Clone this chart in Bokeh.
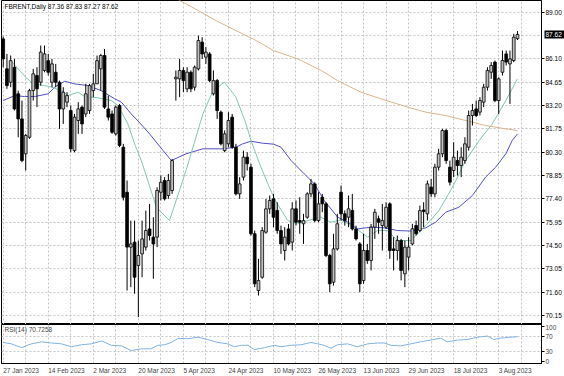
from bokeh.plotting import figure
from bokeh.layouts import column
from bokeh.models import (Range1d, FixedTicker, Label, Grid, NumeralTickFormatter,
                          ColumnDataSource, LinearAxis)
from bokeh.embed import file_html
from bokeh.resources import INLINE

# ---------------- data ----------------
date_labels = ["27 Jan 2023", "14 Feb 2023", "2 Mar 2023", "20 Mar 2023", "5 Apr 2023",
               "24 Apr 2023", "10 May 2023", "26 May 2023", "13 Jun 2023", "29 Jun 2023",
               "18 Jul 2023", "3 Aug 2023"]
date_label_bars = [0, 12, 24, 36, 48, 60, 72, 84, 96, 108, 120, 132]

price_tick_labels = ["70.15", "71.60", "73.05", "74.50", "75.95", "77.40", "78.85",
                     "80.30", "81.75", "83.20", "84.65", "86.10", "87.55", "89.00"]

opens = [87.34, 85.48, 84.65, 85.58, 83.93, 82.37, 80.20, 81.23, 84.13, 85.07,
         84.65, 85.38, 85.99, 84.65, 85.27, 84.65, 82.99, 83.41, 82.89, 80.40,
         82.27, 83.10, 82.68, 82.89, 84.13, 84.55, 85.48, 86.31, 82.99, 82.68,
         81.44, 83.20, 80.61, 77.81, 74.40, 74.71, 73.26, 73.98, 74.40, 75.53,
         75.02, 75.02, 77.81, 78.54, 77.61, 77.92, 84.86, 84.86, 85.38, 84.24,
         85.27, 84.34, 85.48, 87.14, 86.21, 86.41, 83.93, 84.75, 82.79, 80.40,
         80.82, 82.48, 80.61, 77.71, 78.75, 79.99, 79.37, 75.23, 71.70, 72.53,
         75.33, 76.78, 77.40, 76.68, 75.43, 74.19, 75.53, 74.71, 76.78, 76.05,
         75.85, 76.26, 77.71, 78.33, 76.05, 77.50, 77.09, 73.88, 72.22, 74.29,
         77.81, 76.47, 76.26, 76.68, 75.53, 74.60, 72.32, 74.19, 73.57, 75.64,
         76.16, 75.74, 75.64, 77.09, 74.29, 74.19, 74.81, 72.74, 73.78, 74.60,
         75.74, 75.43, 76.71, 76.47, 78.13, 77.71, 79.37, 80.20, 81.65, 79.37,
         79.16, 79.78, 79.47, 79.78, 80.61, 82.58, 82.99, 82.79, 83.41, 84.34,
         85.27, 85.90, 83.51, 85.27, 86.41, 85.79, 86.00, 87.36]
highs = [87.49, 86.41, 86.31, 86.10, 84.13, 83.51, 81.44, 84.24, 85.48, 85.58,
         86.93, 86.93, 86.41, 86.10, 85.79, 84.75, 84.34, 84.03, 83.20, 82.68,
         83.41, 83.20, 84.55, 84.55, 85.17, 86.31, 86.41, 86.72, 83.82, 82.89,
         83.20, 83.30, 80.82, 78.54, 76.05, 76.05, 74.81, 76.05, 76.67, 77.09,
         76.26, 78.12, 78.85, 78.75, 78.95, 79.88, 85.38, 86.10, 85.58, 85.58,
         85.38, 85.69, 87.55, 87.45, 86.83, 86.52, 85.38, 84.86, 82.89, 81.65,
         82.79, 82.68, 80.82, 78.75, 80.40, 80.30, 79.58, 75.43, 73.67, 75.64,
         77.40, 77.61, 77.71, 77.19, 75.74, 75.64, 75.84, 77.19, 77.30, 77.50,
         76.47, 77.81, 78.64, 78.43, 77.81, 77.71, 77.19, 73.98, 75.23, 76.47,
         78.23, 76.68, 77.61, 77.71, 75.74, 74.71, 75.23, 74.60, 75.84, 76.78,
         76.36, 77.09, 77.19, 77.19, 75.02, 75.12, 74.91, 74.81, 75.02, 75.85,
         76.05, 76.98, 77.19, 78.54, 78.64, 79.58, 80.51, 81.75, 81.75, 79.78,
         80.92, 80.40, 80.61, 81.23, 82.89, 83.30, 83.51, 83.72, 84.55, 85.58,
         85.90, 86.00, 84.96, 86.62, 86.62, 86.62, 87.66, 87.83]
lows = [85.58, 84.24, 84.34, 82.89, 81.23, 79.68, 79.16, 81.13, 83.51, 83.10,
        84.44, 85.27, 85.07, 84.34, 84.34, 81.75, 82.06, 83.10, 80.30, 80.30,
        81.44, 81.44, 82.48, 82.68, 83.72, 84.55, 84.13, 82.99, 82.27, 81.44,
        81.34, 80.61, 77.30, 71.70, 71.91, 71.50, 70.05, 72.53, 74.19, 74.81,
        72.43, 74.40, 77.30, 77.30, 77.40, 77.71, 83.51, 83.72, 84.03, 84.03,
        84.03, 84.13, 85.38, 86.10, 85.79, 84.65, 83.82, 82.37, 80.72, 80.30,
        80.61, 80.51, 77.61, 77.40, 78.54, 79.16, 75.12, 71.91, 71.39, 72.43,
        75.23, 76.47, 75.64, 75.23, 73.98, 73.57, 74.50, 74.19, 75.74, 75.23,
        74.60, 76.16, 77.50, 75.95, 75.95, 76.57, 73.78, 71.60, 72.01, 74.19,
        76.05, 75.74, 75.64, 75.43, 74.81, 71.60, 72.12, 73.36, 72.95, 74.91,
        75.23, 74.19, 75.53, 73.67, 72.95, 73.57, 72.33, 71.91, 72.95, 74.50,
        75.12, 75.33, 75.64, 76.05, 77.50, 77.50, 79.16, 79.99, 79.58, 78.23,
        78.75, 78.85, 78.75, 79.58, 80.40, 81.96, 82.48, 82.58, 83.10, 84.13,
        84.86, 83.41, 82.68, 85.07, 85.69, 83.30, 85.90, 87.27]
closes = [86.10, 84.44, 85.99, 82.99, 82.37, 79.78, 81.34, 84.13, 85.17, 84.24,
          86.52, 86.41, 85.27, 85.79, 84.65, 82.99, 84.03, 83.82, 80.51, 82.48,
          82.99, 82.06, 83.93, 84.44, 84.55, 85.99, 86.31, 83.10, 82.48, 81.54,
          83.10, 80.72, 77.50, 74.40, 74.60, 72.53, 73.88, 74.91, 75.43, 75.12,
          74.60, 77.92, 78.43, 77.40, 78.54, 79.78, 84.96, 85.38, 84.75, 85.27,
          84.24, 85.58, 87.24, 86.41, 86.52, 84.75, 84.75, 82.89, 80.82, 81.44,
          82.27, 80.61, 77.71, 78.33, 79.99, 79.58, 75.23, 72.12, 72.32, 75.43,
          76.78, 77.30, 76.26, 75.43, 74.60, 75.02, 74.60, 76.78, 75.95, 75.95,
          76.05, 77.71, 78.33, 76.05, 77.09, 77.09, 73.88, 72.12, 74.29, 75.85,
          76.47, 76.05, 76.78, 75.53, 74.91, 72.12, 74.19, 73.57, 75.64, 76.57,
          75.95, 76.05, 76.88, 74.19, 74.19, 74.81, 72.95, 74.40, 74.40, 75.54,
          75.23, 76.67, 76.61, 78.33, 77.71, 79.37, 80.20, 81.65, 79.78, 78.44,
          79.99, 79.47, 79.99, 80.82, 82.58, 82.89, 82.58, 83.51, 84.34, 85.38,
          85.69, 83.51, 84.86, 86.00, 85.90, 86.10, 87.45, 87.62]

fast_ma_bar = [2, 6, 8, 11, 13, 15.5, 17.3, 19.9, 21.7, 25.3, 28.8, 30.6, 33.2, 35.2, 36.8,
               40.8, 44.3, 48.7, 53.2, 55.9, 58.9, 62.0, 64.7, 66.0, 68.3, 70.9, 72.5,
               75.8, 78.4, 81.1, 84.6, 87.3, 89.9, 93.5, 97.1, 99.7, 102.4, 105.0, 108.6,
               112.8, 116.1, 119.7, 123.2, 126.8, 130.3, 133.9, 137.0]
fast_ma_val = [85.99, 84.96, 84.55, 84.44, 84.34, 84.13, 83.82, 84.03, 83.76, 83.68, 83.51,
               83.20, 82.06, 80.70, 79.78, 76.88, 76.05, 79.16, 82.68, 84.13, 84.65, 83.72,
               82.06, 81.03, 79.58, 78.12, 77.30, 76.05, 75.85, 76.05, 76.26, 75.95, 76.09,
               75.64, 75.02, 75.43, 75.43, 74.81, 74.81, 75.80, 76.68, 78.13, 79.78, 81.03,
               82.06, 83.51, 84.86]

slow_ma_bar = [0, 3.1, 5.7, 8.4, 12.0, 13.7, 16.4, 19.0, 22.6, 26.1, 29.7, 31.5, 34.1, 36.2,
               39.0, 42.6, 44.8, 48.7, 53.2, 58.5, 62.0, 63.8, 66.0, 69.1, 72.0, 74.0, 76.7,
               80.2, 82.9, 85.5, 89.1, 91.8, 94.4, 97.9, 101.5, 105.0, 108.6, 112.6, 115.2,
               117.9, 121.4, 125.0, 128.5, 131.2, 133.9, 135.6, 137.0]
slow_ma_val = [83.51, 83.82, 83.76, 83.76, 83.93, 84.34, 84.71, 84.55, 84.44, 84.13, 83.62,
               83.41, 82.68, 82.17, 81.44, 80.40, 79.78, 80.20, 80.51, 80.51, 80.61, 80.82,
               80.98, 80.86, 80.80, 80.61, 79.78, 78.95, 78.33, 77.30, 76.26, 75.95, 75.53,
               75.64, 75.60, 75.43, 75.40, 75.60, 75.95, 76.57, 76.88, 77.61, 78.75, 79.37,
               80.20, 81.03, 81.44]

long_ma_bar = [46.5, 51, 56.7, 62.0, 67.4, 72.0, 78.5, 84.7, 89.1, 95.3, 100.6, 105.0, 108.0,
               112.6, 117.9, 123.2, 128.5, 133.9, 137.0]
long_ma_val = [89.80, 89.23, 88.48, 87.86, 87.24, 86.62, 86.10, 85.38, 84.75, 84.03, 83.62,
               83.30, 83.08, 82.79, 82.58, 82.27, 81.96, 81.75, 81.65]

rsi_bar = [0, 2.2, 4.9, 7.5, 10.2, 12.9, 15.5, 18.2, 20.8, 23.5, 26.2, 28.8, 31.5, 34.1, 36.8,
           39.4, 41.2, 43.0, 44.8, 46.5, 49.2, 51.9, 54.5, 57.2, 59.8, 61.6, 63.4, 65.2, 66.9,
           69.6, 72.3, 74.0, 76.7, 79.3, 82.0, 83.8, 85.5, 87.3, 89.1, 91.7, 94.4, 97.1, 99.7,
           101.5, 103.3, 105.9, 108.6, 111.2, 113.9, 116.6, 118.3, 121.0, 123.6, 126.3, 129.0,
           130.7, 132.5, 135.2, 137.0]
rsi_val = [54.4, 50.4, 39.7, 50.4, 56.1, 52.8, 50.4, 42.2, 47.9, 50.4, 58.5, 46.3, 44.6, 31.5,
           36.4, 36.4, 46.3, 47.9, 54.4, 65.1, 65.1, 69.2, 62.6, 54.4, 50.4, 42.2, 46.3, 46.3,
           34.0, 39.7, 46.3, 42.2, 46.3, 47.9, 54.4, 50.4, 46.3, 38.1, 47.9, 50.4, 42.2, 50.4,
           52.8, 52.8, 46.3, 44.6, 50.4, 56.1, 61.0, 66.7, 56.1, 61.0, 62.6, 69.2, 72.4, 62.6,
           66.7, 69.2, 70.7]

header_text = "FBRENT,Daily 87.36 87.83 87.27 87.62"
rsi_header = "RSI(14) 70.7258"
last_price = 87.62
rsi_levels = [30, 70]
rsi_axis_ticks = [0, 30, 70, 100]

# ---------------- styling ----------------
FONT = "Liberation Sans"
FS_PX = 6.5
FS = "6.5px"
GRID_COLOR = "#c4c4c4"
UP_FILL = "#c0c0c0"
FRAME_W = 540
X0, X1 = -0.45, 143.4
PX_PER_BAR = FRAME_W / (X1 - X0)

# Arial/Liberation Sans advance widths (1/1000 em), used to left-align date labels at their bar
_W = {c: 556 for c in "0123456789"}
_W.update({" ": 278, "J": 500, "a": 556, "n": 556, "F": 611, "e": 556, "b": 556, "M": 833,
           "r": 333, "A": 667, "p": 556, "y": 500, "u": 556, "l": 222, "g": 556})


def text_px(s):
    return sum(_W.get(c, 556) for c in s) / 1000.0 * FS_PX


idx = list(range(len(closes)))
up = [c >= o for o, c in zip(opens, closes)]
src_up = ColumnDataSource(dict(x=[i for i in idx if up[i]],
                               top=[closes[i] for i in idx if up[i]],
                               bottom=[opens[i] for i in idx if up[i]]))
src_dn = ColumnDataSource(dict(x=[i for i in idx if not up[i]],
                               top=[opens[i] for i in idx if not up[i]],
                               bottom=[closes[i] for i in idx if not up[i]]))

x_range = Range1d(X0, X1)
price_ticks = [float(t) for t in price_tick_labels]
Y0, Y1 = 69.59, 89.73

main = figure(frame_width=FRAME_W, frame_height=324, x_range=x_range,
              y_range=Range1d(Y0, Y1), x_axis_location=None,
              y_axis_location="right", toolbar_location=None, output_backend="svg",
              min_border_left=1, min_border_right=0, min_border_top=0, min_border_bottom=0,
              outline_line_color="black", outline_line_width=1)
for g in main.grid:
    g.visible = False

vgrid_ticks = list(range(0, 144, 6))
main.add_layout(Grid(dimension=0, ticker=FixedTicker(ticks=vgrid_ticks),
                     grid_line_color=GRID_COLOR, grid_line_dash="2 2"))
main.add_layout(Grid(dimension=1, ticker=FixedTicker(ticks=price_ticks),
                     grid_line_color=GRID_COLOR, grid_line_dash="2 2"))

ya = main.yaxis[0]
ya.ticker = FixedTicker(ticks=[t for t in price_ticks if abs(t - last_price) > 0.3])
ya.formatter = NumeralTickFormatter(format="0.00")
ya.major_label_text_font = FONT
ya.major_label_text_font_size = FS
ya.major_label_text_color = "black"
ya.major_tick_out = 3
ya.major_tick_in = 0
ya.minor_tick_line_color = None
ya.major_label_standoff = 1
ya.axis_line_color = "black"

# current-price tag: a second right axis; its (inward, thick) tick is the black box and
# its label, pulled back over the first axis, is the white text
tag_axis = LinearAxis(ticker=FixedTicker(ticks=[last_price]),
                      formatter=NumeralTickFormatter(format="0.00"),
                      axis_line_color=None,
                      major_tick_line_color="black", major_tick_line_width=8,
                      major_tick_out=0, major_tick_in=20,
                      minor_tick_line_color=None,
                      major_label_text_font=FONT, major_label_text_font_size=FS,
                      major_label_text_color="white",
                      major_label_standoff=-19)
main.add_layout(tag_axis, "right")

main.line(long_ma_bar, long_ma_val, line_color="#dcb48c", line_width=1)
main.line(slow_ma_bar, slow_ma_val, line_color="#5050c8", line_width=1)
main.line(fast_ma_bar, fast_ma_val, line_color="#80c8b0", line_width=1)

main.segment(x0=idx, y0=lows, x1=idx, y1=highs, line_color="black", line_width=1)
main.vbar(x="x", top="top", bottom="bottom", width=0.74, source=src_up,
          fill_color=UP_FILL, line_color="black", line_width=0.8)
main.vbar(x="x", top="top", bottom="bottom", width=0.74, source=src_dn,
          fill_color="black", line_color="black", line_width=0.8)

main.add_layout(Label(x=X0, y=Y1, x_offset=3, y_offset=-2, text=header_text,
                      text_font=FONT, text_font_size=FS, text_baseline="top",
                      text_color="black"))

# ---------------- RSI panel ----------------
R0, R1 = -5, 105
rsi = figure(frame_width=FRAME_W, frame_height=39, x_range=x_range,
             y_range=Range1d(R0, R1), x_axis_location="below",
             y_axis_location="right", toolbar_location=None, output_backend="svg",
             min_border_left=1, min_border_right=0, min_border_top=0, min_border_bottom=0,
             outline_line_color="black", outline_line_width=1)
for g in rsi.grid:
    g.visible = False
rsi.add_layout(Grid(dimension=0, ticker=FixedTicker(ticks=vgrid_ticks),
                    grid_line_color=GRID_COLOR, grid_line_dash="2 2"))
rsi.add_layout(Grid(dimension=1, ticker=FixedTicker(ticks=rsi_levels),
                    grid_line_color=GRID_COLOR, grid_line_dash="2 2"))
rsi.line(rsi_bar, rsi_val, line_color="#7fb3e3", line_width=1)

ry = rsi.yaxis[0]
ry.ticker = FixedTicker(ticks=rsi_axis_ticks)
ry.major_label_text_font = FONT
ry.major_label_text_font_size = FS
ry.major_tick_out = 3
ry.major_tick_in = 0
ry.minor_tick_line_color = None
ry.major_label_standoff = 1

# date labels: each tick is moved right by half its label width so the text starts at its bar
label_pos = [b + text_px(s) / 2.0 / PX_PER_BAR for b, s in zip(date_label_bars, date_labels)]
rx = rsi.xaxis[0]
rx.ticker = FixedTicker(ticks=label_pos)
rx.major_label_overrides = {p: s for p, s in zip(label_pos, date_labels)}
rx.major_label_text_font = FONT
rx.major_label_text_font_size = FS
rx.major_tick_line_color = None
rx.major_tick_out = 0
rx.major_tick_in = 0
rx.minor_tick_line_color = None
rx.major_label_standoff = 3
rx.axis_line_color = "black"

rsi.add_layout(Label(x=X0, y=R1, x_offset=3, y_offset=-1, text=rsi_header,
                     text_font=FONT, text_font_size=FS, text_baseline="top"))

layout = column(main, rsi, spacing=0)
open("out.html", "w").write(file_html(layout, INLINE))
